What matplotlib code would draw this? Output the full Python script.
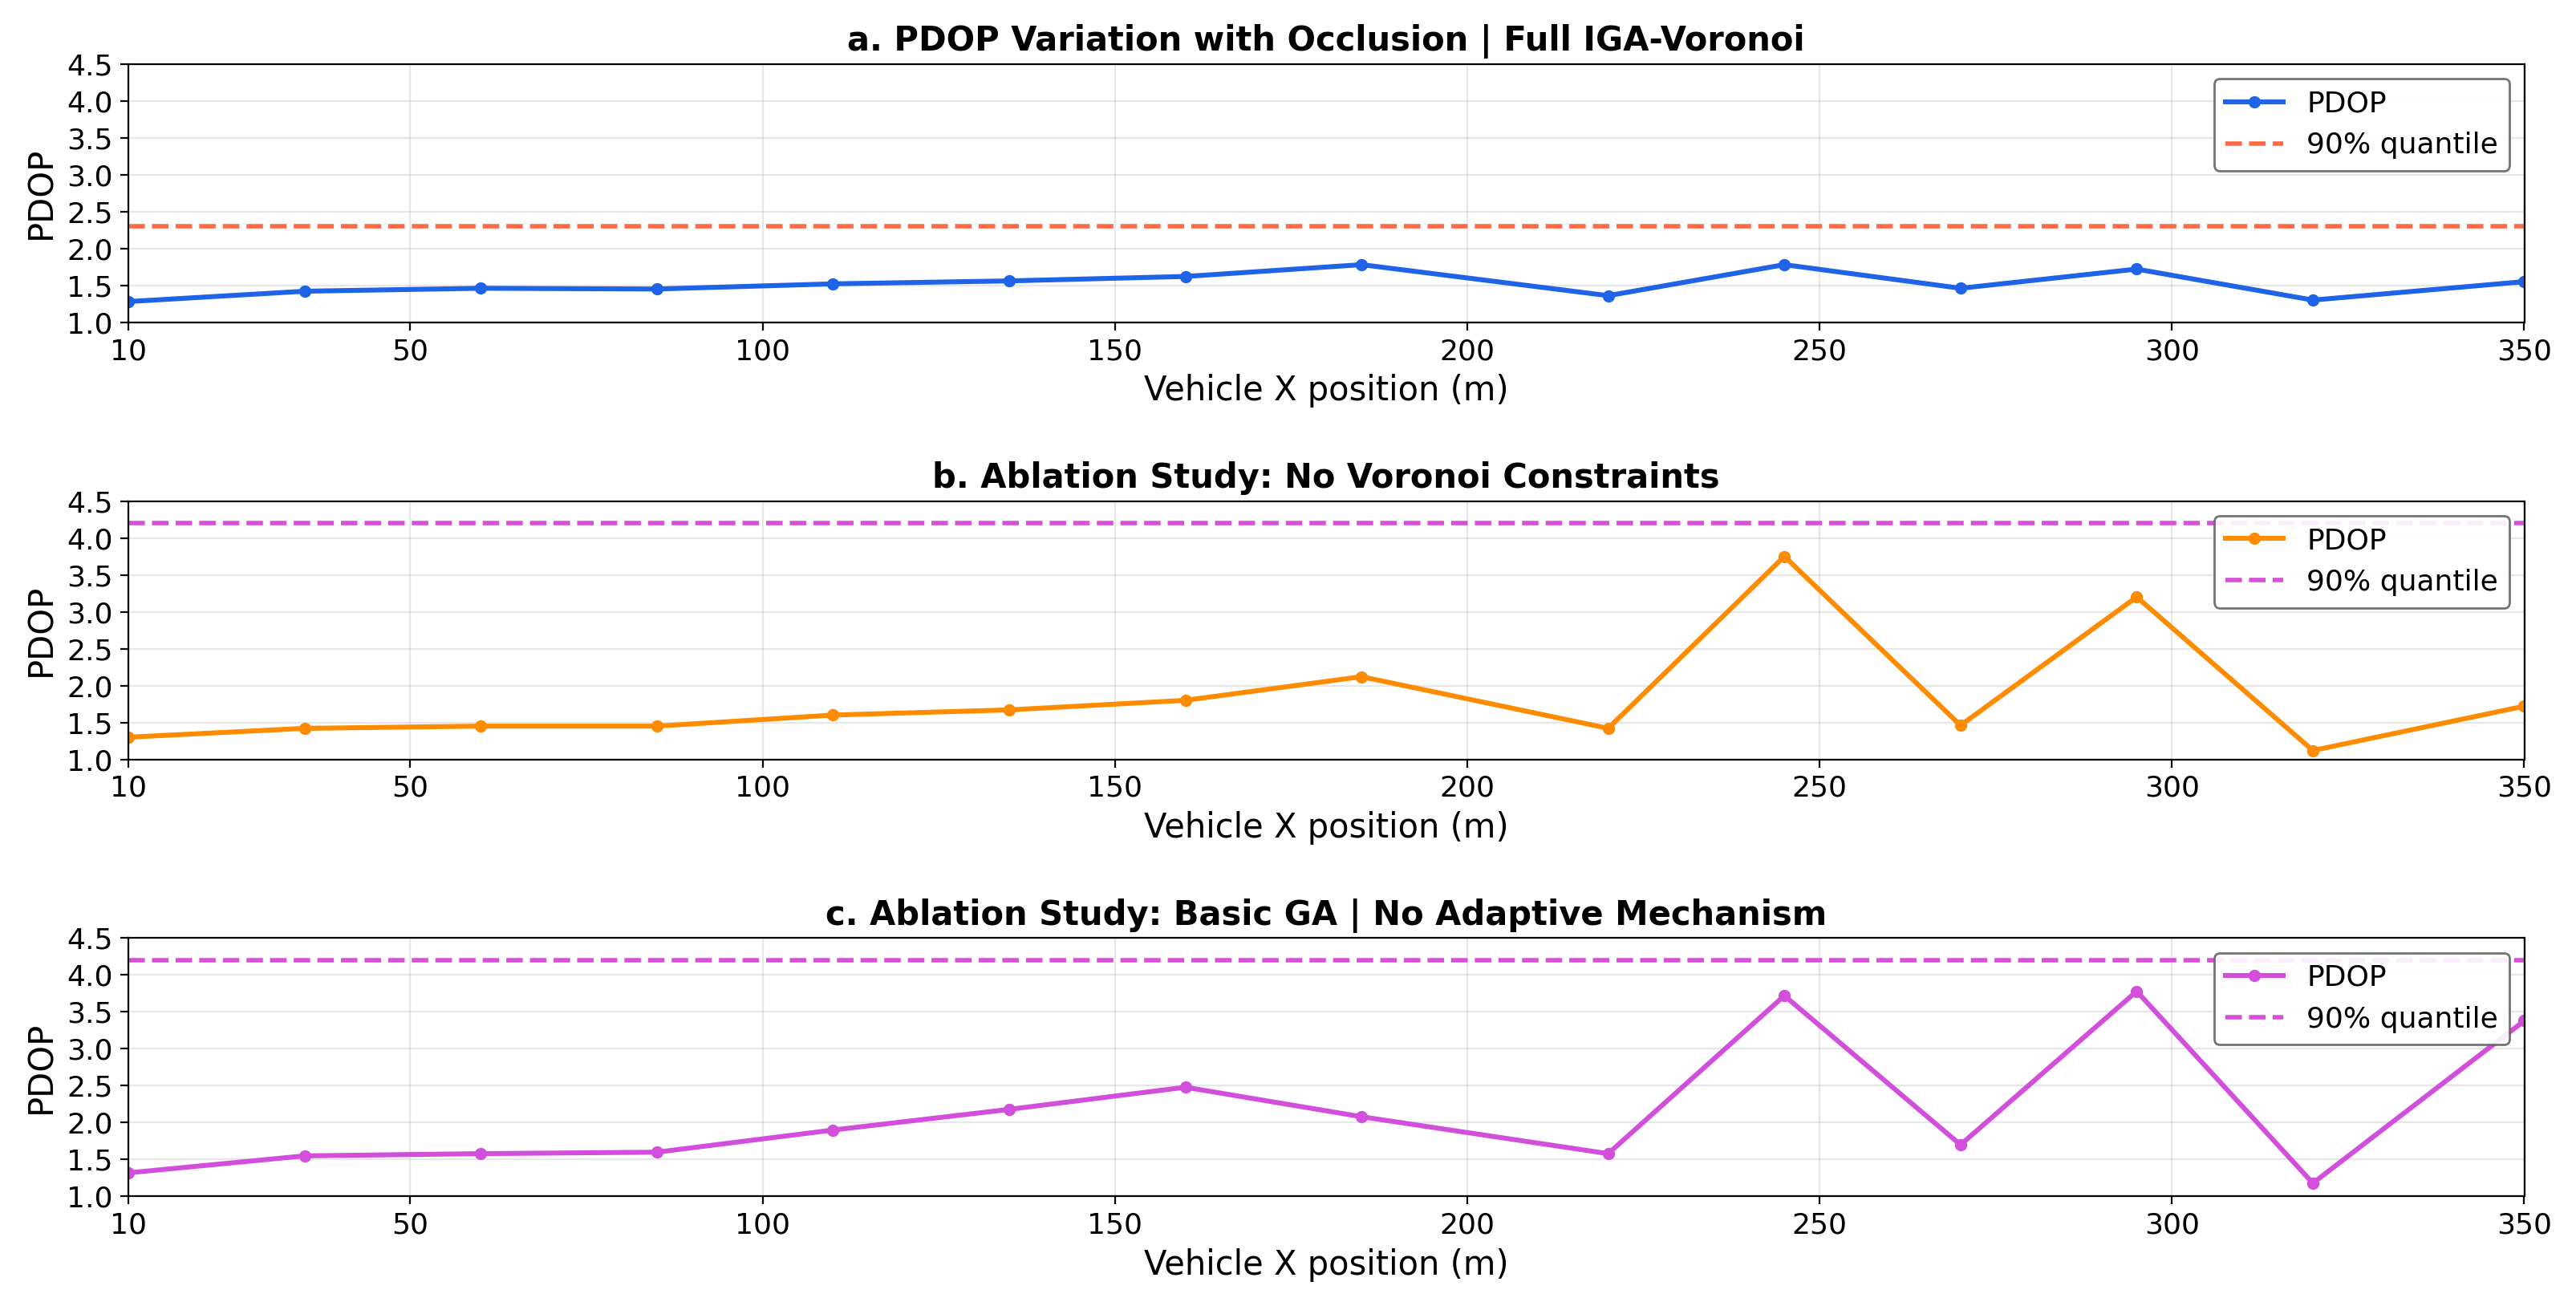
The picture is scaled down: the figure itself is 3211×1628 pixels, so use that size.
import matplotlib.pyplot as plt

xPos = [10, 35, 60, 85, 110, 135, 160, 185, 220, 245, 270, 295, 320, 350]
pdopFull = [1.28, 1.42, 1.46, 1.45, 1.52, 1.56, 1.62, 1.78, 1.36, 1.78, 1.46, 1.72, 1.30, 1.55]
pdopNoVoronoi = [1.30, 1.42, 1.45, 1.45, 1.60, 1.67, 1.80, 2.12, 1.42, 3.75, 1.46, 3.20, 1.12, 1.72]
pdopBasicGA = [1.32, 1.55, 1.58, 1.60, 1.90, 2.18, 2.48, 2.08, 1.58, 3.72, 1.70, 3.78, 1.18, 3.38]
quantiles = [2.3, 4.2, 4.2]
titles = ["a. PDOP Variation with Occlusion | Full IGA-Voronoi",
          "b. Ablation Study: No Voronoi Constraints",
          "c. Ablation Study: Basic GA | No Adaptive Mechanism"]

series = [pdopFull, pdopNoVoronoi, pdopBasicGA]
lineColors = ["#1f63e6", "#ff8c00", "#d24fdc"]
qColors = ["#ff6a45", "#d94fd9", "#d94fd9"]

fig, axes = plt.subplots(3, 1, figsize=(16.055, 8.14), dpi=200)
for ax, ys, t, q, lc, qc in zip(axes, series, titles, quantiles, lineColors, qColors):
    ax.plot(xPos, ys, color=lc, linewidth=2.2, marker="o", markersize=4.5, label="PDOP")
    ax.axhline(q, color=qc, linestyle="--", linewidth=2, label="90% quantile")
    ax.set_xlim(10, 350)
    ax.set_ylim(1.0, 4.5)
    ax.set_xticks([10, 50, 100, 150, 200, 250, 300, 350])
    ax.set_yticks([1.0, 1.5, 2.0, 2.5, 3.0, 3.5, 4.0, 4.5])
    ax.tick_params(labelsize=13)
    ax.grid(True, alpha=0.3)
    ax.set_title(t, fontsize=15, fontweight="bold")
    ax.set_xlabel("Vehicle X position (m)", fontsize=15)
    ax.set_ylabel("PDOP", fontsize=15)
    leg = ax.legend(loc="upper right", fontsize=13, framealpha=0.9)
    leg.get_frame().set_edgecolor("#666666")

plt.tight_layout(h_pad=2.4)
plt.savefig("out.png")
